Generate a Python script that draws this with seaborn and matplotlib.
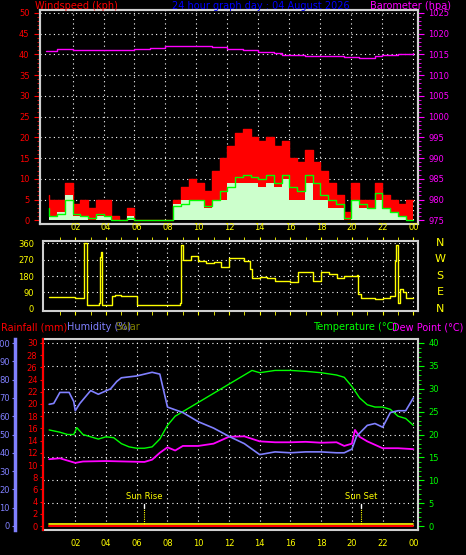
import numpy as np
import pandas as pd
import matplotlib
matplotlib.use("Agg")
import matplotlib.pyplot as plt
import seaborn as sns

sns.set_style("dark")
plt.rcParams['font.family'] = ['DejaVu Sans']

# ---------------- data ----------------
hour_labels = ["02","04","06","08","10","12","14","16","18","20","22","00"]
hour_ticks = [2,4,6,8,10,12,14,16,18,20,22,24]

wind_t = np.arange(0.5, 24.01, 0.5)
gust = [6,5,5,9,4,5,3,5,5,1,0,3,0,0,0,0,0,5,8,10,9,7,12,15,18,21,22,20,19,20,18,19,15,14,17,14,12,9,6,2,9,5,5,9,6,5,4,5]
avg = [3,1,1.5,5,1.5,1,0.5,1.5,1,0,0,0.5,0,0,0,0,0,3.5,4,5,5,3.5,5,7,8,10.5,11,10.5,10,11,9,11,8,7,11,9,6,5,4,0.5,5,4,3,6.5,3,2,1,0]
speed = [4,1,2,6,1,1,0,1,1,0,0,1,0,0,0,0,0,4,5,5,5,3,5,5,9,9,9,9,8,9,8,10,5,5,9,5,5,3,3,0,5,3,3,5,3,2,1,0]

baro_t = [0.3,1.0,2.0,3.0,4.0,5.0,6.0,7.0,8.0,9.0,10.0,11.0,12.0,13.0,14.0,15.0,15.5,17.0,18.0,19.0,19.5,20.5,21.5,22.0,23.0,24.0]
baro = [1015.8,1016.2,1016.0,1016.1,1016.0,1016.0,1016.2,1016.6,1016.9,1017.0,1017.0,1016.8,1016.4,1016.0,1015.6,1015.3,1014.8,1014.7,1014.7,1014.7,1014.3,1014.2,1014.5,1014.9,1015.2,1015.3]

dir_t = [0.3,1.5,2.0,2.55,2.6,2.75,3.4,3.55,3.6,3.7,3.75,4.05,4.4,4.6,4.95,6.0,8.8,8.85,9.0,9.5,10,10.5,11,11.5,12,12.5,13,13.4,13.5,14,14.5,15,15.5,16,16.5,17,17.5,18,18.5,19,19.5,20.3,20.4,20.6,21,21.5,22,22.5,22.8,22.9,23.0,23.1,23.3,23.5,24]
wind_dir = [65,65,58,58,360,20,20,30,285,310,20,20,70,75,70,20,30,350,270,290,260,250,255,230,280,280,260,220,170,175,170,150,150,145,200,200,150,200,190,170,180,185,80,60,60,55,60,70,260,350,30,110,90,60,60]

hum_t = [0.3,0.6,1.0,1.6,1.9,2.0,2.3,3.0,3.5,4.3,4.7,5.0,6.0,7.0,7.5,8.0,9.0,10.0,11.0,12.0,13.0,14.0,15.0,16.0,17.0,18.0,19.0,19.5,20.0,20.3,21.0,21.5,22.0,22.5,23.0,23.5,24.0]
humidity = [66.5,67,73,73,68,63,67,74,72,75,79,81,82,84,83,65,62,57,53.5,49,45,39,40.5,40,40.5,40.5,40,40,42,49,55,56,54,62,63,63,70]

temp_t = [0.3,1.0,1.5,1.9,2.1,2.5,3.0,3.5,4.0,4.5,5.0,5.5,6.0,6.5,7.0,7.5,8.0,8.5,9.0,9.5,10,10.5,11,11.5,12,12.5,13,13.5,14,15,16,17,18,19,19.5,20,20.5,21,21.5,22,22.5,23,23.5,24]
temperature = [21,20.5,20,20,21.5,20,19.5,19,19.5,19.3,18,17.3,17,17,17.3,19,22,24,25,26,27,28,29,30,31,32,33,34,33.5,34,34,33.8,33.5,33,32.5,30.5,28,26.5,26,26,25.5,24,23.5,22]

dew_t = [0.3,1.0,2.0,2.5,4.0,6.5,7.0,7.5,8.0,8.5,9.0,10.0,11.0,12.0,13.0,14.0,15.0,16.0,17.0,18.0,19.0,19.5,20.0,20.2,20.5,21.0,22.0,23.0,24.0]
dewpoint = [14.6,14.8,13.8,14.1,14.2,14.0,14.5,16,17.2,16.5,17.5,17.5,18,19.5,19.6,18.5,18.3,18.3,18.4,18.2,18.3,17.5,18,21,19.5,18.5,17,17,16.8]

rain_t = [0.3, 24.0]
rain = [0.0, 0.0]
sunrise, sunset = 6.5, 20.6

# ---------------- figure ----------------
W, H = 466, 555
fig = plt.figure(figsize=(W/100, H/100), dpi=100, facecolor="black")
def rect(x0, x1, y0, y1):
    return [x0/W, 1-y1/H, (x1-x0)/W, (y1-y0)/H]

FS = 6
TFS = 7
XL = (-0.1, 24.3)
DOT = (0, (1, 3))

def style(ax):
    ax.set_facecolor("black")
    for s in ax.spines.values():
        s.set_color("#d0d0d0")
        s.set_linewidth(1.5)
    ax.grid(False)
    ax.set_xlim(*XL)
    ax.set_xticks(hour_ticks)
    ax.set_xticks(np.arange(1, 25, 1), minor=True)
    for v in hour_ticks:
        ax.axvline(v, color="white", ls=DOT, lw=0.8, zorder=1)

# ---- panel 1 : wind / barometer ----
ax1 = fig.add_axes(rect(40, 418, 10, 224))
style(ax1)
ax1.set_ylim(-0.9, 50.7)
for v in range(5, 51, 5):
    ax1.axhline(v, color="white", ls=DOT, lw=0.8, zorder=1)
ax1.fill_between(wind_t, gust, step="pre", color="red", lw=0, zorder=2)
ax1.step(wind_t, gust, where="pre", color="red", lw=1, zorder=2)
ax1.fill_between(wind_t, speed, step="pre", color="#ccffcc", lw=0, zorder=3)
dfa = pd.DataFrame({"t": wind_t, "v": avg})
sns.lineplot(data=dfa, x="t", y="v", ax=ax1, color="#00ff00", lw=1, drawstyle="steps-pre", zorder=4)
ax1.set_yticks(range(0, 51, 5))
ax1.set_yticks(range(0, 51, 1), minor=True)
ax1.tick_params(axis="y", colors="red", labelsize=FS, which="both", length=2)
ax1.tick_params(axis="y", which="major", length=4)
ax1.tick_params(axis="x", colors="white", labelbottom=False, length=3, which="both")
ax1.set_xlabel(""); ax1.set_ylabel("")
ax1b = ax1.twinx()
ax1b.set_ylim(975-0.9, 1025.7)
dfb = pd.DataFrame({"t": baro_t, "p": baro})
sns.lineplot(data=dfb, x="t", y="p", ax=ax1b, color="magenta", lw=1, drawstyle="steps-post")
ax1b.set_yticks(range(975, 1026, 5))
ax1b.set_yticks(range(975, 1026, 1), minor=True)
ax1b.tick_params(axis="y", colors="magenta", labelsize=FS, which="both", length=2)
ax1b.tick_params(axis="y", which="major", length=4)
ax1b.set_xlabel(""); ax1b.set_ylabel("")
for s in ax1b.spines.values():
    s.set_color("#d0d0d0"); s.set_linewidth(1.5)
fig.text(35/W, 1-6/H, "Windspeed (kph)", color="red", fontsize=TFS, va="center")
fig.text(172/W, 1-6/H, "24 hour graph day : 04 August 2026", color="blue", fontsize=TFS, va="center")
fig.text(370/W, 1-6/H, "Barometer (hpa)", color="magenta", fontsize=TFS, va="center")

# ---- panel 2 : wind direction ----
ax2 = fig.add_axes(rect(43, 418, 241, 311))
style(ax2)
ax2.set_ylim(-12, 372)
for v in range(90, 361, 90):
    ax2.axhline(v, color="white", ls=DOT, lw=0.8, zorder=1)
dfd = pd.DataFrame({"t": dir_t, "d": wind_dir})
sns.lineplot(data=dfd, x="t", y="d", ax=ax2, color="yellow", lw=1, drawstyle="steps-post", zorder=3)
ax2.set_yticks([0, 90, 180, 270, 360])
ax2.tick_params(axis="y", colors="yellow", labelsize=FS, length=3)
ax2.tick_params(axis="x", colors="yellow", labelsize=FS, labeltop=True, labelbottom=False,
                top=True, bottom=True, length=3, which="both")
ax2.set_xticklabels(hour_labels)
ax2.set_xlabel(""); ax2.set_ylabel("")
for i, c in enumerate("NWSEN"):
    fig.text(440/W, 1-(243+i*16.5)/H, c, color="yellow", fontsize=8, ha="center", va="center")

# ---- panel 3 : temp / humidity / rain ----
r3 = rect(43, 418, 339, 530)
ax3 = fig.add_axes(r3)
style(ax3)
ax3.set_ylim(-0.87, 40.87)
for v in range(5, 41, 5):
    ax3.axhline(v, color="white", ls=DOT, lw=0.8, zorder=1)
dft = pd.DataFrame({"t": temp_t, "T": temperature})
sns.lineplot(data=dft, x="t", y="T", ax=ax3, color="#00ff00", lw=1, zorder=3)
dfdp = pd.DataFrame({"t": dew_t, "D": dewpoint})
sns.lineplot(data=dfdp, x="t", y="D", ax=ax3, color="magenta", lw=1.3, zorder=4)
ax3.set_yticks(range(0, 41, 5))
ax3.set_yticks(range(0, 41, 1), minor=True)
ax3.tick_params(axis="y", colors="#00ff00", labelsize=FS, which="both", length=2,
                left=False, labelleft=False, right=True, labelright=True)
ax3.tick_params(axis="y", which="major", length=4)
ax3.tick_params(axis="x", colors="yellow", labelsize=FS, length=3, which="both")
ax3.set_xticklabels(hour_labels)
ax3.set_xlabel(""); ax3.set_ylabel("")
for st, lab in [(sunrise, "Sun Rise"), (sunset, "Sun Set")]:
    ax3.plot([st, st], [0, 4], color="yellow", ls=(0, (1, 1)), lw=0.8, zorder=2)
    ax3.plot([st, st], [4, 4.8], color="white", lw=1, zorder=2)
    ax3.text(st, 5.5, lab, color="yellow", fontsize=FS, ha="center", va="bottom")

def side_axis(outward, color, spine_color, lw):
    a = fig.add_axes(r3)
    a.patch.set_visible(False)
    a.grid(False)
    a.set_xlim(*XL)
    a.set_xticks([])
    for k in ["right", "top", "bottom"]:
        a.spines[k].set_visible(False)
    a.spines["left"].set_position(("outward", outward))
    a.spines["left"].set_color(spine_color)
    a.spines["left"].set_linewidth(lw)
    a.tick_params(axis="y", colors=color, labelsize=FS, length=2.5, pad=1.5, left=True, labelleft=True)
    return a

axr = side_axis(0, "red", "red", 1.5)
axr.set_ylim(-0.65, 30.65)
axr.plot(rain_t, [0.35, 0.35], color="yellow", lw=1.2)
dfr = pd.DataFrame({"t": rain_t, "r": rain})
sns.lineplot(data=dfr, x="t", y="r", ax=axr, color="red", lw=1.5)
axr.set_yticks(range(0, 31, 2))
axr.set_xlabel(""); axr.set_ylabel("")

axh = side_axis(20, "#8080ff", "#8080ff", 2.5)
axh.set_ylim(-2.2, 102.2)
dfh = pd.DataFrame({"t": hum_t, "h": humidity})
sns.lineplot(data=dfh, x="t", y="h", ax=axh, color="#8080ff", lw=1.2, zorder=2)
axh.set_yticks(range(0, 101, 10))
axh.set_xlabel(""); axh.set_ylabel("")

fig.text(1/W, 1-327/H, "Rainfall (mm)", color="red", fontsize=TFS, va="center")
fig.text(67/W, 1-327/H, "Humidity (%)", color="#8080ff", fontsize=TFS, va="center")
fig.text(115/W, 1-327/H, "Solar", color="#808000", fontsize=TFS, va="center")
fig.text(313/W, 1-327/H, "Temperature (°C)", color="#00ff00", fontsize=TFS, va="center")
fig.text(392/W, 1-327/H, "Dew Point (°C)", color="magenta", fontsize=TFS, va="center")

fig.savefig("out.png", dpi=100, facecolor="black")
